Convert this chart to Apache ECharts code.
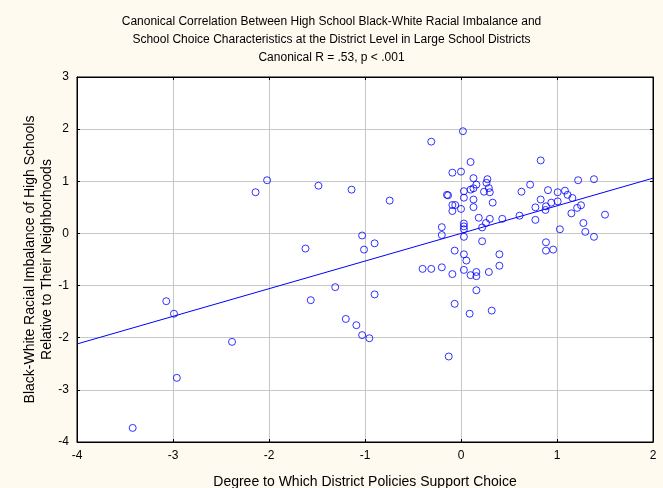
<!DOCTYPE html>
<html><head><meta charset="utf-8">
<script src="https://cdn.jsdelivr.net/npm/echarts@6/dist/echarts.min.js"></script>
<style>html,body{margin:0;padding:0;background:#FFFAF0}#c{width:663px;height:488px}</style>
</head><body><div id="c"></div>
<script>
const titleLines = ['Canonical Correlation Between High School Black-White Racial Imbalance and',
  'School Choice Characteristics at the District Level in Large School Districts',
  'Canonical R = .53, p < .001'];
const xName = 'Degree to Which District Policies Support Choice';
const yName = 'Black-White Racial Imbalance of High Schools\nRelative to Their Neighborhoods';

const xs = [-3.07,-2.99,-2.385,-2.96,-3.42,-2.14,-2.02,-1.485,-1.14,-0.743,-0.31,-0.146,-0.20,-0.20,-1.03,-0.90,-1.01,-1.62,
  -0.40,-0.31,-0.20,-1.31,-1.565,-0.90,-1.20,-1.09,-1.03,-0.955,-0.128,
  -0.066,0.03,0.40,0.056,-0.09,0.03,0.10,0.16,0.16,0.29,0.40,0.16,-0.066,0.09,0.32,0.22,
  0.02,0.10,-0.09,0.0,0.13,0.275,0.16,0.265,0.13,0.10,0.03,0.29,0.24,0.30,-0.135,0.03,0.13,0.33,-0.09,-0.06,-0.09,0.0,0.13,
  0.185,0.30,0.43,0.26,0.22,0.03,0.03,0.03,0.03,
  0.83,1.22,1.385,0.72,0.63,0.906,1.007,1.083,1.11,1.16,0.83,1.007,0.94,0.885,0.775,0.88,1.25,1.21,1.15,0.61,1.50,0.775,
  1.275,1.03,1.295,1.385,0.885,0.885,0.96];
const ys = [-1.30,-1.54,-2.08,-2.77,-3.73,0.79,1.02,0.915,0.84,0.63,1.76,0.74,0.12,-0.03,-0.04,-0.19,-0.31,-0.29,
  -0.68,-0.68,-0.65,-1.03,-1.28,-1.17,-1.64,-1.76,-1.95,-2.01,-2.36,
  -0.33,-0.40,-0.40,-0.52,-0.78,-0.70,-0.80,-0.74,-0.82,-0.74,-0.62,-1.09,-1.35,-1.54,-1.48,-0.15,
  1.96,1.37,1.165,1.185,1.06,1.04,0.935,0.97,0.865,0.84,0.81,0.87,0.80,0.79,0.73,0.685,0.65,0.59,0.545,0.545,0.43,0.47,0.505,
  0.30,0.28,0.28,0.20,0.115,0.19,0.135,0.08,-0.065,
  1.40,1.02,1.04,0.935,0.80,0.83,0.79,0.82,0.74,0.68,0.65,0.615,0.59,0.52,0.50,0.45,0.54,0.49,0.385,0.34,0.36,0.26,
  0.20,0.08,0.03,-0.065,-0.17,-0.33,-0.31];
const lineX = [-4, 2];
const lineY = [-2.12, 1.06];
const xTicks = [-4,-3,-2,-1,0,1,2];
const yTicks = [-4,-3,-2,-1,0,1,2,3];

const font = 'Liberation Sans, Arial, sans-serif';
const pts = xs.map((x,i)=>[x, ys[i]]);
const chart = echarts.init(document.getElementById('c'));
const axisCommon = {
  min: xTicks[0], max: xTicks[xTicks.length-1], interval: 1,
  nameMoveOverlap:false,
  axisLine:{show:true,onZero:false,lineStyle:{color:'#000',width:1}},
  axisTick:{show:true,inside:true,length:3,lineStyle:{color:'#000'}},
};
chart.setOption({
  backgroundColor:'#FFFAF0',
  animation:false,
  title:{text:titleLines.join('\n'),left:'center',top:8,
    textStyle:{fontFamily:font,fontSize:12,fontWeight:'normal',color:'#000',lineHeight:18}},
  grid:{left:77,right:10,top:77,bottom:46,outerBoundsMode:'none',containLabel:false,show:true,backgroundColor:'#fff',borderColor:'#000',borderWidth:1},
  xAxis:[
    Object.assign({},axisCommon,{type:'value',position:'bottom',
      name:xName,nameLocation:'middle',nameGap:40,
      nameTextStyle:{fontFamily:font,fontSize:14,color:'#000',verticalAlign:'middle'},
      axisLabel:{fontFamily:font,fontSize:12,color:'#000',margin:8},
      splitLine:{show:true,lineStyle:{color:'#c8c8c8',width:1}}}),
    Object.assign({},axisCommon,{type:'value',position:'top',axisLabel:{show:false},splitLine:{show:false}})
  ],
  yAxis:[
    Object.assign({},axisCommon,{type:'value',position:'left',min:yTicks[0],max:yTicks[yTicks.length-1],
      name:yName,nameLocation:'middle',nameGap:38,nameRotate:90,
      nameTextStyle:{fontFamily:font,fontSize:14,color:'#000',lineHeight:17,align:'center',verticalAlign:'middle'},
      axisLabel:{fontFamily:font,fontSize:12,color:'#000',margin:8},
      splitLine:{show:true,lineStyle:{color:'#c8c8c8',width:1}}}),
    Object.assign({},axisCommon,{type:'value',position:'right',min:yTicks[0],max:yTicks[yTicks.length-1],
      axisLabel:{show:false},splitLine:{show:false}})
  ],
  series:[
    {type:'line',data:lineX.map((x,i)=>[x,lineY[i]]),symbol:'none',
      lineStyle:{color:'#0000ff',width:1},z:2},
    {type:'scatter',data:pts,symbol:'circle',symbolSize:7,
      itemStyle:{color:'transparent',borderColor:'#0000ff',borderWidth:1},z:3}
  ]
});
</script></body></html>
